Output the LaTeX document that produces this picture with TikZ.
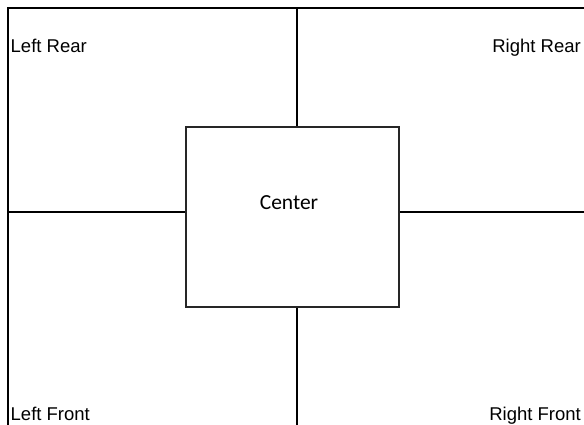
\documentclass[tikz,border=0pt]{standalone}
\usepackage{fontspec}
\setmainfont{Liberation Sans}
\newfontfamily\calibrifont{Carlito}
\begin{document}
\begin{tikzpicture}[x=1pt,y=-1pt,
  wall/.style={line width=1.6pt,black},
  lbl/.style={font=\fontsize{18.5}{22}\selectfont,inner sep=0pt},
  centerbox/.style={draw=black!85,line width=1.6pt,fill=white,minimum width=213pt,minimum height=180pt,inner sep=0pt}]
\useasboundingbox (0,0) rectangle (584,425);
% outer frame (open at right and bottom)
\coordinate (tr) at (590,8);
\coordinate (tl) at (8,8);
\coordinate (bl) at (8,430);
\draw[wall] (tr) -- (tl) -- (bl);
% center box
\node[centerbox] (box) at (292.5,217) {};
\node[font=\calibrifont\fontsize{21.5}{25}\selectfont,inner sep=0pt,anchor=base] (ctext) at (289,210) {Center};
% dividing lines
\coordinate (vtop) at (297,8);
\coordinate (vbot) at (297,430);
\coordinate (hleft) at (8,212);
\coordinate (hright) at (590,212);
\draw[wall] (vtop) -- (vtop |- box.north);
\draw[wall] (vbot) -- (vbot |- box.south);
\draw[wall] (hleft) -- (hleft -| box.west);
\draw[wall] (hright) -- (hright -| box.east);
% corner labels
\node[lbl,anchor=base west] (lr) at (10.5,53) {Left Rear};
\node[lbl,anchor=base east] (rr) at (581,53) {Right Rear};
\node[lbl,anchor=base west] (lf) at (10.5,420) {Left Front};
\node[lbl,anchor=base east] (rf) at (581,420) {Right Front};
\end{tikzpicture}
\end{document}
